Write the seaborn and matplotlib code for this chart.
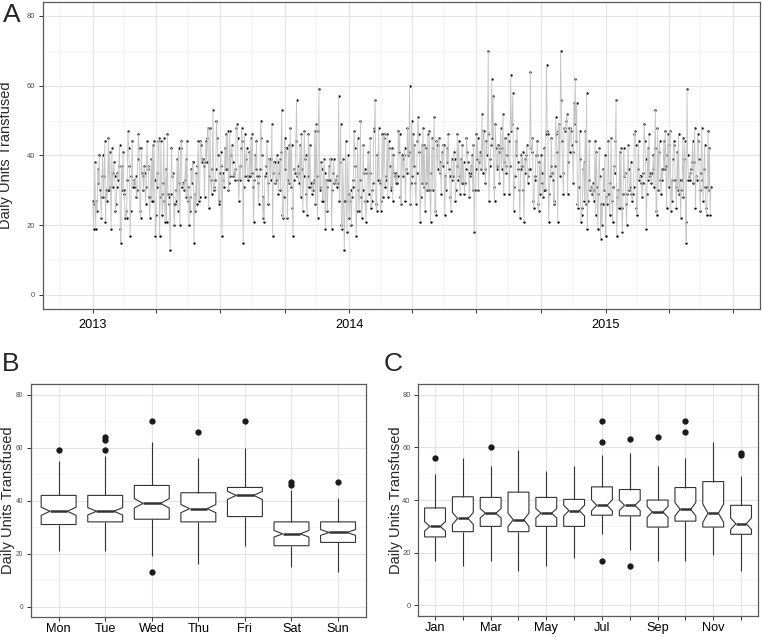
import pandas as pd
import matplotlib.pyplot as plt
import matplotlib.dates as mdates
from matplotlib.ticker import MultipleLocator, FuncFormatter
import seaborn as sns

# Daily units transfused, one line per month (estimated from the figure)
units_2013 = [
    27, 19, 26, 38, 19, 27, 24, 36, 32, 40, 30, 28, 22, 34, 40, 28, 34, 44, 21, 30, 27, 30, 45, 30, 41, 31, 19, 42, 31, 35, 38,
    34, 24, 26, 31, 35, 33, 37, 43, 19, 15, 37, 30, 41, 30, 29, 22, 24, 22, 33, 47, 42, 37, 17, 24, 34, 44, 31, 32,
    33, 31, 34, 28, 30, 39, 46, 42, 24, 22, 42, 35, 34, 30, 37, 35, 26, 31, 44, 36, 37, 28, 22, 28, 39, 27, 43, 27, 44, 33, 17,
    23, 35, 31, 44, 45, 17, 28, 44, 29, 23, 32, 45, 27, 21, 36, 21, 46, 29, 28, 26, 13, 29, 42, 34, 35, 26, 20, 26, 27, 30,
    39, 24, 42, 32, 20, 42, 44, 31, 32, 32, 30, 33, 39, 28, 44, 27, 31, 20, 28, 24, 36, 32, 38, 38, 15, 29, 24, 35, 26, 37, 44,
    27, 28, 44, 43, 38, 39, 39, 37, 28, 38, 44, 38, 45, 48, 25, 34, 48, 33, 29, 36, 53, 31, 30, 33, 36, 50, 45, 40, 26, 27,
    35, 41, 37, 17, 35, 33, 31, 42, 36, 46, 36, 47, 30, 32, 47, 34, 40, 43, 38, 34, 35, 36, 33, 48, 49, 45, 33, 27, 37, 33, 42,
    48, 44, 15, 31, 46, 34, 39, 42, 34, 33, 34, 41, 34, 45, 35, 46, 31, 21, 33, 40, 36, 44, 34, 32, 26, 34, 36, 50, 45, 40, 22,
    28, 21, 34, 35, 37, 44, 32, 26, 39, 39, 33, 39, 49, 17, 35, 38, 38, 32, 33, 40, 38, 29, 35, 39, 30, 41, 53, 23, 22, 28,
    45, 36, 42, 42, 22, 33, 43, 32, 48, 31, 43, 25, 17, 33, 36, 35, 44, 56, 34, 37, 32, 35, 43, 28, 46, 36, 24, 34, 47, 39, 40,
    29, 23, 34, 46, 31, 43, 32, 31, 29, 32, 30, 33, 47, 26, 49, 34, 22, 47, 59, 30, 31, 38, 36, 27, 27, 39, 35, 19, 33, 31,
    24, 33, 37, 33, 39, 39, 19, 30, 35, 39, 32, 33, 33, 31, 34, 32, 57, 27, 38, 49, 20, 19, 39, 27, 13, 27, 44, 27, 18, 40, 29,
]
units_2014 = [
    22, 27, 30, 20, 28, 31, 33, 47, 42, 37, 17, 24, 45, 30, 24, 33, 50, 28, 22, 30, 43, 35, 36, 27, 21, 27, 35, 41, 29, 35, 45,
    25, 27, 30, 32, 47, 48, 56, 26, 24, 40, 33, 48, 33, 32, 24, 27, 46, 28, 45, 46, 31, 33, 34, 46, 28, 44, 42, 37,
    30, 31, 42, 27, 40, 35, 34, 32, 35, 32, 34, 47, 41, 46, 28, 26, 40, 39, 34, 40, 42, 27, 36, 35, 48, 40, 41, 60, 26, 32, 50,
    34, 46, 37, 43, 32, 26, 35, 44, 51, 46, 41, 21, 28, 43, 32, 48, 31, 43, 24, 32, 42, 30, 46, 30, 47, 30, 21, 35, 45, 30,
    42, 51, 24, 23, 44, 43, 36, 43, 45, 35, 38, 29, 41, 37, 43, 43, 23, 34, 30, 42, 38, 46, 36, 34, 28, 24, 39, 33, 34, 41, 39,
    27, 30, 37, 46, 33, 44, 34, 29, 39, 32, 43, 32, 38, 29, 32, 36, 45, 41, 38, 35, 28, 34, 37, 35, 40, 30, 43, 18, 30, 36,
    46, 39, 45, 30, 38, 41, 40, 36, 52, 35, 47, 47, 36, 32, 44, 40, 46, 70, 27, 37, 39, 43, 62, 45, 57, 31, 27, 49, 42, 36, 37,
    43, 41, 32, 42, 48, 36, 42, 52, 29, 38, 45, 37, 35, 40, 46, 44, 29, 37, 63, 47, 49, 58, 24, 31, 34, 44, 40, 48, 38, 36, 30,
    22, 36, 40, 37, 41, 30, 21, 39, 35, 40, 43, 32, 34, 36, 36, 64, 42, 41, 45, 27, 25, 33, 34, 40, 40, 44, 26, 24, 38, 29,
    40, 35, 32, 28, 30, 42, 30, 46, 66, 47, 46, 21, 29, 34, 37, 45, 35, 33, 27, 26, 37, 51, 46, 41, 21, 47, 49, 34, 70, 56, 44,
    35, 29, 48, 48, 47, 50, 52, 29, 38, 48, 41, 48, 47, 43, 41, 32, 55, 49, 62, 44, 55, 26, 25, 31, 47, 39, 21, 23, 25, 36,
    38, 27, 47, 26, 58, 19, 27, 33, 44, 30, 31, 31, 29, 32, 27, 30, 44, 23, 41, 31, 19, 29, 42, 34, 16, 26, 20, 26, 36, 30, 40,
]
units_2015 = [
    17, 28, 26, 29, 44, 29, 23, 32, 45, 27, 21, 31, 37, 35, 44, 56, 17, 28, 30, 25, 41, 25, 42, 25, 18, 29, 42, 34, 35, 26, 20,
    29, 43, 36, 30, 31, 38, 29, 27, 29, 31, 46, 47, 43, 25, 23, 36, 44, 33, 34, 34, 32, 28, 32, 35, 49, 44, 39, 19,
    29, 42, 33, 46, 35, 34, 32, 35, 36, 40, 31, 42, 53, 24, 23, 48, 30, 41, 44, 33, 29, 36, 33, 36, 44, 36, 47, 37, 25, 40, 46,
    31, 43, 47, 24, 33, 27, 39, 44, 43, 33, 31, 25, 41, 30, 46, 29, 33, 22, 30, 33, 45, 28, 39, 44, 21, 15, 59, 40, 33, 34,
    35, 33, 36, 38, 44, 32, 38, 48, 25, 34, 33, 46, 44, 39, 30, 24, 35, 48, 33, 27, 36, 43, 31, 25, 23, 31, 47, 30, 42, 23, 31,
]

day_order = ['Mon', 'Tue', 'Wed', 'Thu', 'Fri', 'Sat', 'Sun']
month_order = ['Jan', 'Feb', 'Mar', 'Apr', 'May', 'Jun', 'Jul', 'Aug', 'Sep', 'Oct', 'Nov', 'Dec']
month_labels = ['Jan', '', 'Mar', '', 'May', '', 'Jul', '', 'Sep', '', 'Nov', '']

assert len(units_2013) == 365 and len(units_2014) == 365 and len(units_2015) == 151

units = units_2013 + units_2014 + units_2015
df = pd.DataFrame({'date': pd.date_range('2013-01-01', periods=len(units), freq='D'),
                   'units': units})
df['weekday'] = df['date'].dt.strftime('%a')
df['month'] = df['date'].dt.strftime('%b')

sns.set_theme(style="whitegrid")
plt.rcParams['font.family'] = ['Liberation Sans', 'DejaVu Sans']

fig = plt.figure(figsize=(7.62, 6.37), dpi=100)
ax_a = fig.add_axes([0.0564, 0.515, 0.941, 0.482])
ax_b = fig.add_axes([0.0403, 0.031, 0.440, 0.366])
ax_c = fig.add_axes([0.549, 0.033, 0.4454, 0.364])


def style_axes(ax, ysize):
    ax.set_facecolor('white')
    for s in ax.spines.values():
        s.set_visible(True)
        s.set_color('#5a5a5a')
        s.set_linewidth(0.9)
    ax.set_ylim(-4, 84)
    ax.yaxis.set_major_locator(MultipleLocator(20))
    ax.yaxis.set_minor_locator(MultipleLocator(10))
    ax.grid(True, which='major', color='#E4E4E4', linewidth=0.8)
    ax.grid(True, which='minor', color='#F1F1F1', linewidth=0.5)
    ax.set_axisbelow(True)
    ax.tick_params(which='major', bottom=True, left=True, direction='out',
                   length=3, width=0.7, color='#333333')
    ax.tick_params(which='minor', bottom=False, left=False, length=0)
    ax.tick_params(axis='y', labelsize=ysize, labelcolor='#4D4D4D', pad=2.5)
    ax.tick_params(axis='x', labelsize=9.2, labelcolor='black')


# A: daily time series
sns.lineplot(data=df, x='date', y='units', ax=ax_a, color='#C4C4C4', linewidth=0.6)
sns.scatterplot(data=df, x='date', y='units', ax=ax_a, color='black', s=3, linewidth=0)
style_axes(ax_a, 5.5)
ax_a.set_xlim(pd.Timestamp('2012-10-22'), pd.Timestamp('2015-08-09'))
ax_a.xaxis.set_major_locator(mdates.MonthLocator(bymonth=[1, 4, 7, 10]))
ax_a.xaxis.set_minor_locator(mdates.MonthLocator(bymonth=[2, 5, 8, 11], bymonthday=15))
ax_a.xaxis.set_major_formatter(FuncFormatter(
    lambda v, pos: str(mdates.num2date(v).year) if mdates.num2date(v).month == 1 else ''))
ax_a.tick_params(axis='x', pad=4)
ax_a.set_xlabel('')
ax_a.set_ylabel('Daily Units Transfused', fontsize=10.5)
ax_a.yaxis.set_label_coords(-0.0414, 0.5)

# B: by weekday, C: by month
box_kws = dict(y='units', notch=True, showcaps=False, color='white', linecolor='#333333',
               linewidth=0.8, width=0.75, fliersize=3.5,
               flierprops=dict(marker='o', markerfacecolor='#1a1a1a', markeredgecolor='#1a1a1a'),
               medianprops=dict(linewidth=1.8))
sns.boxplot(data=df, x='weekday', order=day_order, ax=ax_b, **box_kws)
sns.boxplot(data=df, x='month', order=month_order, ax=ax_c, **box_kws)

style_axes(ax_b, 4.8)
ax_b.set_xlim(-0.6, 6.6)
ax_b.tick_params(axis='x', pad=1)
ax_b.set_xlabel('')
ax_b.set_ylabel('Daily Units Transfused', fontsize=10.5)
ax_b.yaxis.set_label_coords(-0.047, 0.5)

style_axes(ax_c, 5.5)
ax_c.set_xlim(-0.6, 11.6)
ax_c.set_xticks(range(12))
ax_c.set_xticklabels(month_labels)
ax_c.tick_params(axis='x', pad=1)
ax_c.set_xlabel('')
ax_c.set_ylabel('Daily Units Transfused', fontsize=10.5)
ax_c.yaxis.set_label_coords(-0.045, 0.5)

fig.text(0.004, 0.995, 'A', fontsize=19, va='top', ha='left')
fig.text(0.003, 0.448, 'B', fontsize=19, va='top', ha='left')
fig.text(0.503, 0.448, 'C', fontsize=19, va='top', ha='left')

fig.savefig('out.png', dpi=100)
